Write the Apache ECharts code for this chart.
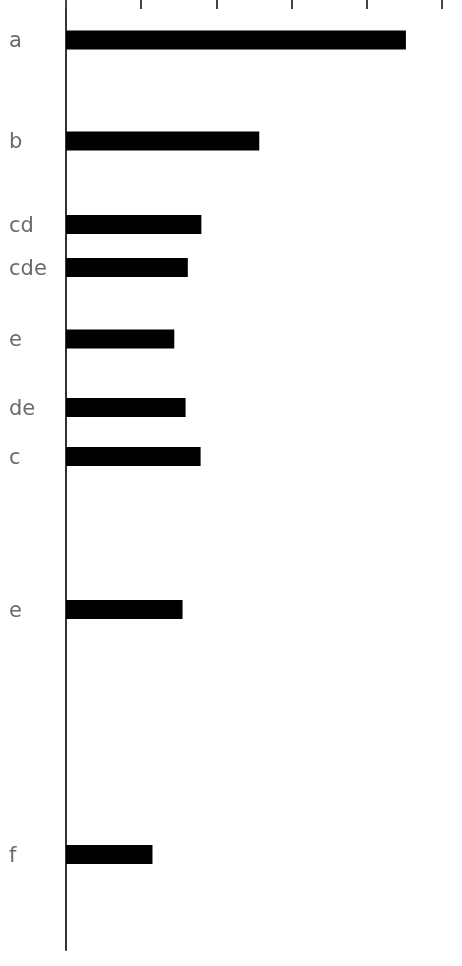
<!DOCTYPE html>
<html>
<head>
<meta charset="utf-8">
<script src="https://cdn.jsdelivr.net/npm/echarts@6/dist/echarts.min.js"></script>
<style>
  html, body { margin: 0; padding: 0; background: #fff; }
  #chart { width: 462px; height: 966px; }
</style>
</head>
<body>
<div id="chart"></div>
<script>
// Significance letters for each group
const groupLetters = ['a', 'b', 'cd', 'cde', 'e', 'de', 'c', 'e', 'f'];
// Position of each group along the vertical scale
const groupPositions = [4.0, 14.1, 22.45, 26.75, 33.9, 40.75, 45.65, 60.95, 85.45];
// Measured values (horizontal bar length)
const groupValues = [4.52, 2.57, 1.80, 1.62, 1.44, 1.59, 1.79, 1.55, 1.15];

const BAR_THICKNESS = 19;

const chart = echarts.init(document.getElementById('chart'));

chart.setOption({
  animation: false,
  backgroundColor: '#ffffff',
  grid: { left: 66, right: 20, top: 0, bottom: 16 },
  xAxis: {
    type: 'value',
    position: 'top',
    min: 0,
    max: 5,
    interval: 1,
    axisLine: { show: false },
    axisTick: { show: true, inside: true, length: 9, lineStyle: { color: '#444', width: 2 } },
    axisLabel: { show: false },
    splitLine: { show: false }
  },
  yAxis: {
    type: 'value',
    inverse: true,
    min: 0,
    max: 95,
    axisLine: { show: true, onZero: false, lineStyle: { color: '#333', width: 2 } },
    axisTick: { show: false },
    axisLabel: { show: false },
    splitLine: { show: false }
  },
  series: [{
    type: 'custom',
    data: groupValues.map((v, i) => [v, groupPositions[i], i]),
    encode: { x: 0, y: 1 },
    renderItem: function (params, api) {
      const value = api.value(0);
      const pos = api.value(1);
      const idx = api.value(2);
      const start = api.coord([0, pos]);
      const end = api.coord([value, pos]);
      return {
        type: 'group',
        children: [
          {
            type: 'rect',
            shape: {
              x: start[0],
              y: start[1] - BAR_THICKNESS / 2,
              width: end[0] - start[0],
              height: BAR_THICKNESS
            },
            style: { fill: '#000000' }
          },
          {
            type: 'text',
            x: start[0] - 57,
            y: start[1] + 2,
            style: {
              text: groupLetters[idx],
              fontFamily: 'DejaVu Sans',
              fontSize: 21,
              fill: '#6a6a6a',
              align: 'left',
              verticalAlign: 'middle'
            }
          }
        ]
      };
    }
  }]
});
</script>
</body>
</html>
